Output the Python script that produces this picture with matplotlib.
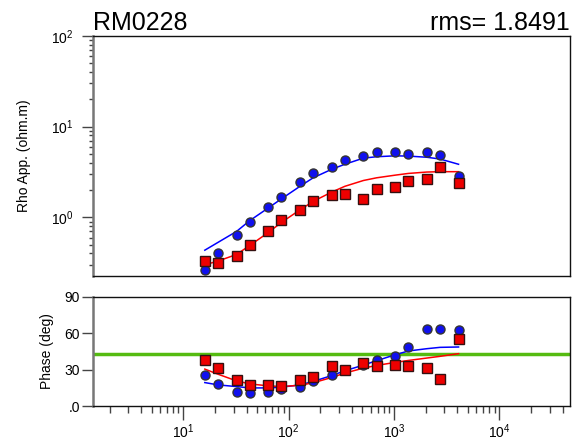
import numpy as np
import matplotlib
matplotlib.use('Agg')
import matplotlib.pyplot as plt
from matplotlib.ticker import LogLocator, FixedLocator, FixedFormatter, NullFormatter

plt.rcParams['font.family'] = ['Liberation Sans', 'DejaVu Sans']
plt.rcParams['mathtext.fontset'] = 'custom'
plt.rcParams['mathtext.rm'] = 'Liberation Sans'
plt.rcParams['mathtext.it'] = 'Liberation Sans:italic'
plt.rcParams['mathtext.bf'] = 'Liberation Sans:bold'

# frequencies (Hz)
freq = [16, 21.33, 32, 42.67, 64, 85.33, 128, 170.67, 256, 341.33,
        512, 682.67, 1024, 1365.33, 2048, 2730.67, 4096]

# apparent resistivity, observed
rho_blue = [0.26, 0.40, 0.64, 0.89, 1.29, 1.67, 2.46, 3.11, 3.63, 4.24,
            4.77, 5.20, 5.25, 4.99, 5.29, 4.82, 2.83]
rho_red = [0.333, 0.313, 0.372, 0.499, 0.703, 0.925, 1.22, 1.52, 1.78, 1.79,
           1.60, 2.04, 2.15, 2.53, 2.62, 3.56, 2.42]
# apparent resistivity, model response
rho_blue_fit = [0.435, 0.53, 0.70, 0.92, 1.27, 1.60, 2.20, 2.73, 3.39, 3.85,
                4.50, 4.66, 4.77, 4.74, 4.60, 4.40, 3.85]
rho_red_fit = [0.30, 0.33, 0.39, 0.49, 0.68, 0.88, 1.21, 1.50, 1.90, 2.20,
               2.55, 2.73, 2.92, 3.05, 3.16, 3.19, 3.19]

# phase (deg), observed
ph_blue = [25.4, 18.5, 11.6, 10.8, 11.6, 13.8, 16.0, 20.2, 25.4, 29.5,
           33.7, 37.8, 40.9, 48.9, 63.2, 63.2, 62.4]
ph_red = [37.5, 31.2, 21.3, 17.1, 17.7, 16.6, 21.3, 24.0, 32.9, 29.8,
          35.1, 32.6, 33.7, 32.6, 31.2, 22.1, 55.5]
# phase, model response
ph_blue_fit = [19.3, 17.4, 16.0, 14.9, 14.9, 15.5, 17.4, 20.2, 25.1, 29.0,
               33.7, 37.3, 42.2, 45.3, 47.2, 48.3, 48.6]
ph_red_fit = [30.4, 26.2, 20.7, 18.2, 16.6, 16.0, 17.1, 19.1, 23.5, 27.1,
              31.2, 33.4, 35.9, 37.5, 39.5, 40.9, 43.1]

ph_ref = 43.2

site = 'RM0228'
rms_text = 'rms= 1.8491'

fig = plt.figure(figsize=(5.74, 4.47), dpi=100)
ax1 = fig.add_axes([0.1615, 0.3826, 0.8315, 0.537])
ax2 = fig.add_axes([0.1615, 0.0917, 0.8315, 0.2445], sharex=ax1)

xlim = (10 ** 0.14, 10 ** 4.67)

# --- top: apparent resistivity
ax1.plot(freq, rho_blue_fit, color='#0000ff', lw=1.1, zorder=2)
ax1.plot(freq, rho_red_fit, color='#ff0000', lw=1.1, zorder=2)
ax1.plot(freq, rho_blue, 'o', ms=6.5, mfc='#1010ee', mec='#333333', mew=1.0, zorder=3)
ax1.plot(freq, rho_red, 's', ms=6.5, mfc='#ee0000', mec='#331111', mew=1.0, zorder=3)
ax1.set_xscale('log')
ax1.set_yscale('log')
ax1.set_xlim(*xlim)
ax1.set_ylim(0.226, 100)
ax1.set_ylabel('Rho App. (ohm.m)', fontsize=10, labelpad=14)
ax1.yaxis.set_major_locator(LogLocator(base=10, numticks=10))
ax1.yaxis.set_minor_locator(LogLocator(base=10, subs=np.arange(2, 10), numticks=10))
ax1.yaxis.set_minor_formatter(NullFormatter())
ax1.tick_params(axis='y', which='major', direction='out', length=8, width=1,
                color='#444444', labelsize=10, pad=6)
ax1.tick_params(axis='y', which='minor', direction='out', length=3, width=1, color='#444444')
ax1.tick_params(axis='x', which='both', length=0, labelbottom=False)
ax1.text(0.0, 1.005, site, transform=ax1.transAxes, fontsize=18,
         ha='left', va='bottom')
ax1.text(1.0, 1.005, rms_text, transform=ax1.transAxes, fontsize=18,
         ha='right', va='bottom')

# --- bottom: phase
ax2.axhline(ph_ref, color='#55bb11', lw=2.5, zorder=1)
ax2.plot(freq, ph_blue_fit, color='#0000ff', lw=1.1, zorder=2)
ax2.plot(freq, ph_red_fit, color='#ff0000', lw=1.1, zorder=2)
ax2.plot(freq, ph_blue, 'o', ms=6.5, mfc='#1010ee', mec='#333333', mew=1.0, zorder=3)
ax2.plot(freq, ph_red, 's', ms=6.5, mfc='#ee0000', mec='#331111', mew=1.0, zorder=3)
ax2.set_ylim(0, 90)
ax2.yaxis.set_major_locator(FixedLocator([0, 30, 60, 90]))
ax2.yaxis.set_major_formatter(FixedFormatter(['.0', '30', '60', '90']))
ax2.set_ylabel('Phase (deg)', fontsize=10, labelpad=8)
ax2.tick_params(axis='y', which='major', direction='out', length=8, width=1,
                color='#444444', labelsize=10, pad=1)
ax2.xaxis.set_major_locator(LogLocator(base=10, numticks=10))
ax2.xaxis.set_minor_locator(LogLocator(base=10, subs=np.arange(2, 10), numticks=10))
ax2.xaxis.set_minor_formatter(NullFormatter())
ax2.tick_params(axis='x', which='major', direction='out', length=10, width=1,
                color='#444444', labelsize=10, pad=2)
ax2.tick_params(axis='x', which='minor', direction='out', length=5, width=1, color='#444444')
ax2.set_xlim(*xlim)

for ax in (ax1, ax2):
    for side in ('top', 'right', 'bottom'):
        ax.spines[side].set_color('#111111')
        ax.spines[side].set_linewidth(1.0)
    ax.spines['left'].set_color('#777777')
    ax.spines['left'].set_linewidth(1.8)

fig.savefig('out.png', dpi=100)
